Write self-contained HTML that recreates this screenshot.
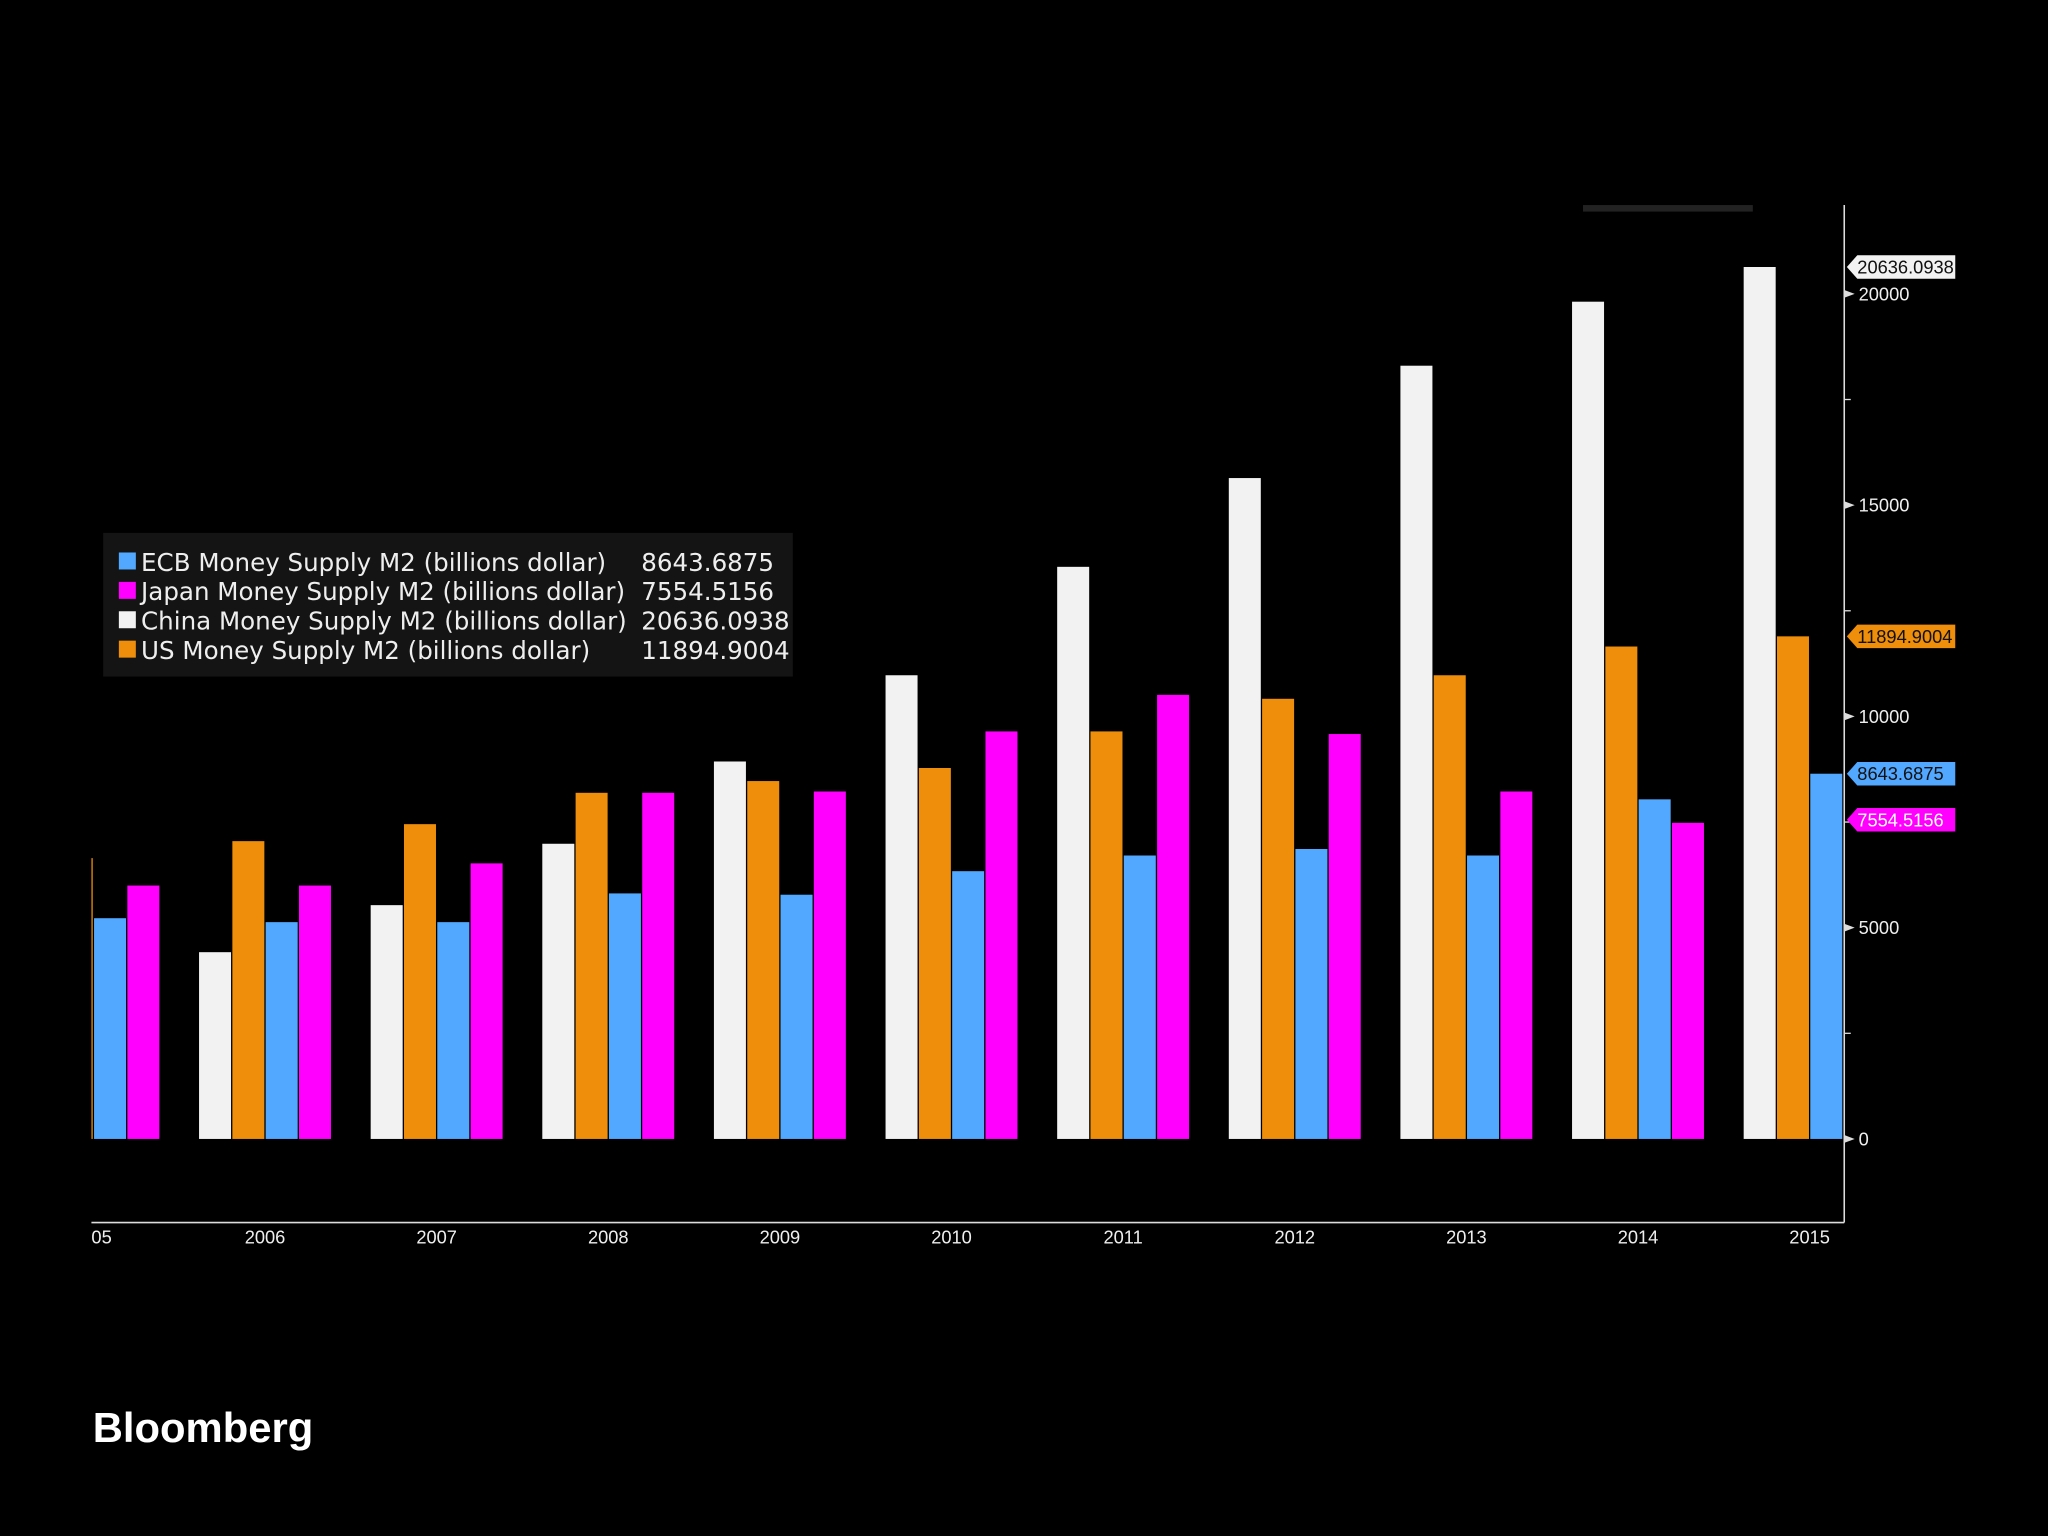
<!DOCTYPE html>
<html><head><meta charset="utf-8"><style>
html,body{margin:0;padding:0;background:#000;}
svg{display:block;}
text{font-family:"DejaVu Sans","Liberation Sans",sans-serif;}
text.lib{font-family:"Liberation Sans",sans-serif;}
</style></head><body>
<svg id="chart" width="2048" height="1536" viewBox="0 0 1568 1176" xmlns="http://www.w3.org/2000/svg">
<rect x="0" y="0" width="1568" height="1176" fill="#000"/>
<defs><clipPath id="plotclip"><rect x="70" y="150" width="1342" height="790"/></clipPath></defs>
<rect x="1212" y="157" width="130" height="5" fill="#222"/>
<g id="bars" clip-path="url(#plotclip)"></g>
<line x1="1412" y1="157" x2="1412" y2="936" stroke="#ddd" stroke-width="1.2"/>
<line x1="70" y1="936" x2="1412" y2="936" stroke="#ddd" stroke-width="1.2"/>
<g id="yaxis"></g>
<g id="xaxis"></g>
<g id="tags"></g>
<g>
<rect x="79" y="408" width="528" height="110" fill="#141414"/>
<g id="legend"></g>
</g>
<text class="lib" x="71" y="1104" fill="#fff" font-size="32" font-weight="bold">Bloomberg</text>
</svg>
<script>
const years = ['2005','2006','2007','2008','2009','2010','2011','2012','2013','2014','2015'];
const china = [4000,4420,5533,6986,8933,10974,13540,15641,18300,19815,20636.0938];
const us = [6646,7048,7450,8192,8470,8779,9645,10417,10974,11654,11894.9004];
const ecb = [5224,5131,5131,5811,5780,6337,6708,6862,6708,8037,8643.6875];
const japan = [5997,5997,6522,8192,8223,9645,10510,9583,8223,7481,null];
const yTicks = [0,5000,10000,15000,20000];
const yMinor = [2500,7500,12500,17500];
const seriesNames = ['ECB Money Supply M2 (billions dollar)','Japan Money Supply M2 (billions dollar)','China Money Supply M2 (billions dollar)','US Money Supply M2 (billions dollar)'];
const lastValues = ['8643.6875','7554.5156','20636.0938','11894.9004'];
const tagValues = [20636.0938,11894.9004,8643.6875,7554.5156];

const NS='http://www.w3.org/2000/svg';
function y(v){return 872 - v*647/20000;}
function x(i){return 71.5 + i*131.4;}
function mk(tag,attrs,parent){const e=document.createElementNS(NS,tag);for(const k in attrs)e.setAttribute(k,attrs[k]);parent.appendChild(e);return e;}

const series=[{d:china,c:'#f2f2f3',n:'china'},{d:us,c:'#ee8e0b',n:'us'},{d:ecb,c:'#52a8ff',n:'ecb'},{d:japan,c:'#ff00ff',n:'japan'}];
const bw=25.5;
const gb=document.getElementById('bars');
series.forEach((s,si)=>{
  s.d.forEach((v,i)=>{
    if(v==null)return;
    const r=mk('rect',{x:x(i)+(si-2)*bw+0.5,y:y(v),width:bw-1,height:y(0)-y(v),fill:s.c},gb);
    
    
  });
});
const ya=document.getElementById('yaxis');
yTicks.forEach(t=>{
  const p=mk('path',{d:`M1412 ${y(t)-3} L1420 ${y(t)} L1412 ${y(t)+3} Z`,fill:'#ddd'},ya);
  
  
  const tx=mk('text',{x:1423,y:y(t)+5,fill:'#eee','font-size':14,class:'lib'},ya);
  tx.textContent=t;
  
  
});
yMinor.forEach(t=>{
  const l=mk('line',{x1:1412,y1:y(t),x2:1417,y2:y(t),stroke:'#ddd'},ya);
  
  
});
const xa=document.getElementById('xaxis');
years.forEach((yr,i)=>{
  const tx=mk('text',{x:x(i),y:952,fill:'#eee','font-size':14,'text-anchor':'middle',class:'lib'},xa);
  tx.textContent= i===0 ? '05' : yr;
  if(i===0){tx.setAttribute('text-anchor','start');tx.setAttribute('x',70);}
  
  
});
const tagColors=['#f2f2f3','#ee8e0b','#52a8ff','#ff00ff'];
const tagText=['#111','#111','#111','#fff'];
const tg=document.getElementById('tags');
tagValues.forEach((v,i)=>{
  const cy=y(v);
  const p=mk('path',{d:`M1414 ${cy} L1422 ${cy-9} L1497 ${cy-9} L1497 ${cy+9} L1422 ${cy+9} Z`,fill:tagColors[i]},tg);
  
  
  const tx=mk('text',{x:1422,y:cy+5,fill:tagText[i],'font-size':14,class:'lib'},tg);
  tx.textContent=lastValues[[2,3,0,1][i]];
  
  
});
const lg=document.getElementById('legend');
const legColors=['#52a8ff','#ff00ff','#f2f2f3','#ee8e0b'];
seriesNames.forEach((n,i)=>{
  const cy=430+i*22.5;
  const sw=mk('rect',{x:91,y:cy-7,width:13,height:13,fill:legColors[i]},lg);
  
  
  const t=mk('text',{x:108,y:cy+7,fill:'#eee','font-size':18.8},lg);
  t.textContent=n;
  
  
  const v=mk('text',{x:491,y:cy+7,fill:'#eee','font-size':18.8},lg);
  v.textContent=lastValues[i];
  
  
});
</script>
</body></html>
